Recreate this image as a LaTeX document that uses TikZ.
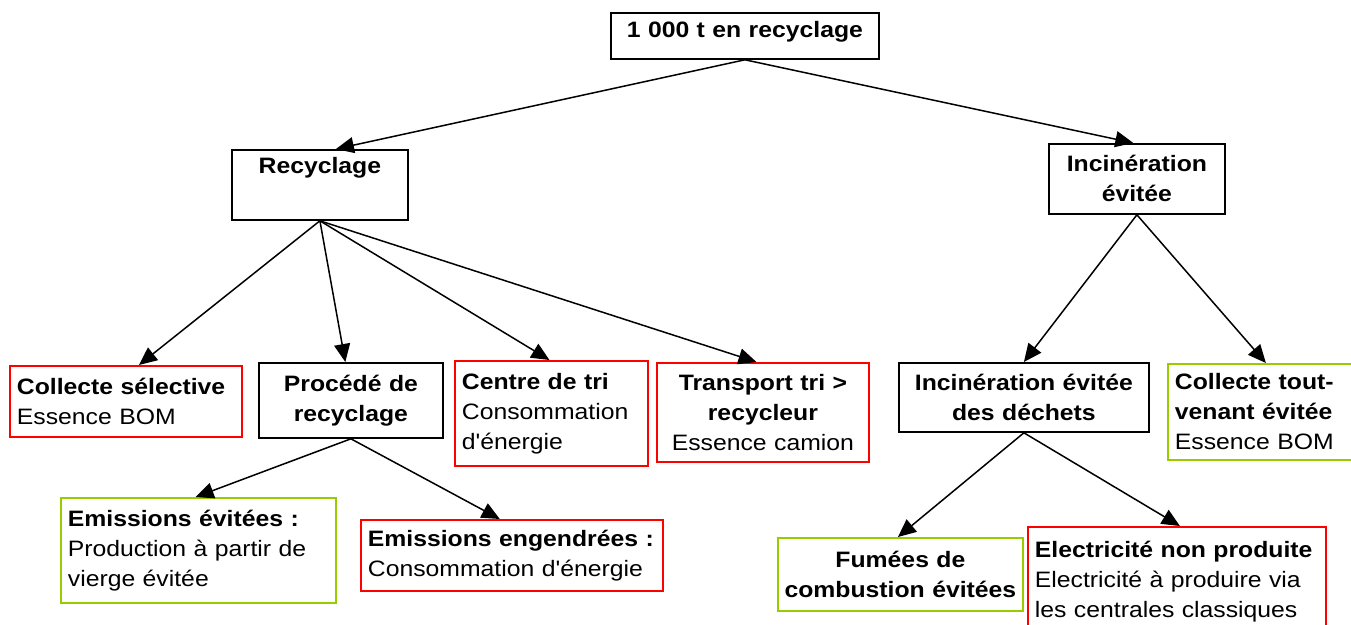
\documentclass[tikz,border=0pt]{standalone}
\usepackage{fontspec}
\setmainfont{Liberation Sans}[FakeStretch=1.11,Ligatures=TeXOff]
\usetikzlibrary{arrows.meta,calc}
\definecolor{bred}{RGB}{255,0,0}
\definecolor{bgreen}{RGB}{153,204,0}
\begin{document}
\begin{tikzpicture}[x=1pt,y=-1pt,
  box/.style={draw, line width=1.8pt, inner xsep=7pt, inner ysep=0pt, anchor=north west,
    font=\fontsize{22.3}{30}\selectfont},
  redbox/.style={box, draw=bred},
  greenbox/.style={box, draw=bgreen},
  arr/.style={line width=1.5pt, -{Triangle[length=18pt,width=16pt]}}]
\useasboundingbox (0,0) rectangle (1351,624);
\clip (0,0) rectangle (1351,624);

\node[box, text width=254pt, align=center, text height=25pt, text depth=21pt] (top) at (610,12) {\textbf{1 000 t en recyclage}};
\node[box, text width=162pt, align=center, text height=24pt, text depth=46pt] (rec) at (231,149) {\textbf{Recyclage}};
\node[box, text width=162pt, align=center, minimum height=70pt] (inc) at (1048,143) {\textbf{Incinération}\\\textbf{évitée}};

\node[redbox, text width=218pt, align=left, minimum height=71pt] (cs) at (9,365) {\textbf{Collecte sélective}\\Essence BOM};
\node[box, text width=170pt, align=center, minimum height=75pt] (proc) at (258,362) {\textbf{Procédé de}\\\textbf{recyclage}};
\node[redbox, text width=179pt, align=left, minimum height=105pt] (ct) at (454,360) {\textbf{Centre de tri}\\Consommation\\d'énergie};
\node[redbox, text width=198pt, align=center, minimum height=99pt] (tr) at (656,362) {\textbf{Transport tri >}\\\textbf{recycleur}\\Essence camion};
\node[box, text width=236pt, align=center, minimum height=69pt] (incd) at (898,362) {\textbf{Incinération évitée}\\\textbf{des déchets}};
\node[greenbox, text width=186pt, align=left, minimum height=96pt] (ctv) at (1167,363) {\textbf{Collecte tout-}\\\textbf{venant évitée}\\Essence BOM};

\node[greenbox, text width=261pt, align=left, minimum height=105pt] (ee) at (60,497) {\textbf{Emissions évitées :}\\Production à partir de\\vierge évitée};
\node[redbox, text width=288pt, align=left, minimum height=71pt] (eng) at (360,519) {\textbf{Emissions engendrées :}\\Consommation d'énergie};
\node[greenbox, text width=242pt, inner xsep=1.5pt, align=center, minimum height=73pt] (fum) at (777,537) {\textbf{Fumées de}\\\textbf{combustion évitées}};
\node[redbox, text width=284pt, align=left, minimum height=110pt] (el) at (1027,526) {\textbf{Electricité non produite}\\Electricité à produire via\\les centrales classiques};

\draw[arr] (top.south) -- ($(rec.north west)!0.59!(rec.north east)$);
\draw[arr] (top.south) -- ($(inc.north west)!0.48!(inc.north east)$);
\draw[arr] (rec.south) -- ($(cs.north west)!0.556!(cs.north east)$);
\draw[arr] (rec.south) -- ($(proc.north west)!0.47!(proc.north east)$);
\draw[arr] (rec.south) -- ($(ct.north west)!0.49!(ct.north east)$);
\draw[arr] (rec.south) -- ($(tr.north west)!0.47!(tr.north east)$);
\draw[arr] (inc.south) -- ($(incd.north west)!0.5!(incd.north east)$);
\draw[arr] (inc.south) -- ($(ctv.north west)!0.49!(ctv.north east)$);
\draw[arr] (proc.south) -- ($(ee.north west)!0.49!(ee.north east)$);
\draw[arr] (proc.south) -- ($(eng.north west)!0.46!(eng.north east)$);
\draw[arr] (incd.south) -- ($(fum.north west)!0.49!(fum.north east)$);
\draw[arr] (incd.south) -- ($(el.north west)!0.51!(el.north east)$);
\end{tikzpicture}
\end{document}
